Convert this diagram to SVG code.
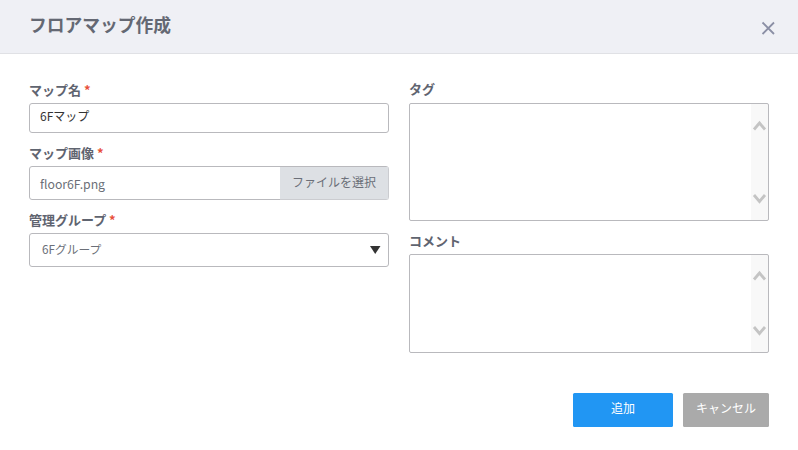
<svg xmlns="http://www.w3.org/2000/svg" width="798" height="450" viewBox="0 0 798 450">
<style>
text{font-family:"Noto Sans CJK JP","Noto Sans","Liberation Sans",sans-serif}
.lb{font-size:13px;font-weight:700;fill:#5f6470}
.st{font-size:13px;font-weight:700;fill:#e8503a}
.box{fill:#fff;stroke:#b9b9bd;stroke-width:1}
.sb{fill:#f8f8f8}
.ch{fill:none;stroke:#c4c4c4;stroke-width:2.800}
.v{fill:#6b6f78}
</style>
<rect width="798" height="450" fill="#fff"/>
<g id="header">
<rect width="798" height="53" fill="#eff0f5"/>
<rect y="53" width="798" height="1" fill="#e0e1e5"/>
<text x="29" y="32" font-size="17.750" font-weight="700" fill="#646873">フロアマップ作成</text>
<path d="M762.500 22.500L774 34M774 22.500L762.500 34" fill="none" stroke="#8b8fa5" stroke-width="1.800"/>
</g>
<g id="map-name">
<text class="lb" x="29" y="95">マップ名</text><text class="st" x="84" y="95">*</text>
<rect class="box" x="29.500" y="103.500" width="359" height="29" rx="2.500"/>
<text x="40" y="121" font-size="12" fill="#333">6Fマップ</text>
</g>
<g id="map-image">
<text class="lb" x="29" y="158">マップ画像</text><text class="st" x="97" y="158">*</text>
<rect class="box" x="29.500" y="166.500" width="359" height="33" rx="2.500"/>
<rect x="280" y="167" width="108.500" height="32.500" fill="#dde0e4"/>
<text class="v" x="40" y="189" font-size="12.250">floor6F.png</text>
<text class="v" x="292" y="186.500" font-size="12">ファイルを選択</text>
</g>
<g id="group">
<text class="lb" x="29" y="225">管理グループ</text><text class="st" x="109" y="225">*</text>
<rect class="box" x="29.500" y="233.500" width="359" height="33" rx="2.500"/>
<text class="v" x="42" y="254" font-size="11.750">6Fグループ</text>
<path d="M370 246H380.500L375.200 254Z" fill="#333"/>
</g>
<g id="tag">
<text class="lb" x="409" y="94">タグ</text>
<rect class="sb" x="751" y="104" width="17" height="116"/>
<rect x="409.500" y="103.500" width="359" height="117" rx="1.500" fill="none" stroke="#b9b9bd"/>
<path class="ch" d="M754 129.500L759.500 123L765 129.500M754 195L759.500 201.500L765 195"/>
</g>
<g id="comment">
<text class="lb" x="409" y="246">コメント</text>
<rect class="sb" x="751" y="255" width="17" height="97"/>
<rect x="409.500" y="254.500" width="359" height="98" rx="1.500" fill="none" stroke="#b9b9bd"/>
<path class="ch" d="M754 279.500L759.500 273L765 279.500M754 327L759.500 333.500L765 327"/>
</g>
<g id="add">
<rect x="573" y="393" width="100" height="34" rx="1.500" fill="#2196f3"/>
<text x="623" y="413" font-size="12" fill="#fff" text-anchor="middle">追加</text>
</g>
<g id="cancel">
<rect x="683" y="393" width="86" height="34" rx="1.500" fill="#aaa"/>
<text x="726" y="413" font-size="12" fill="#fff" text-anchor="middle">キャンセル</text>
</g>
<g id="connectors"/>
</svg>
